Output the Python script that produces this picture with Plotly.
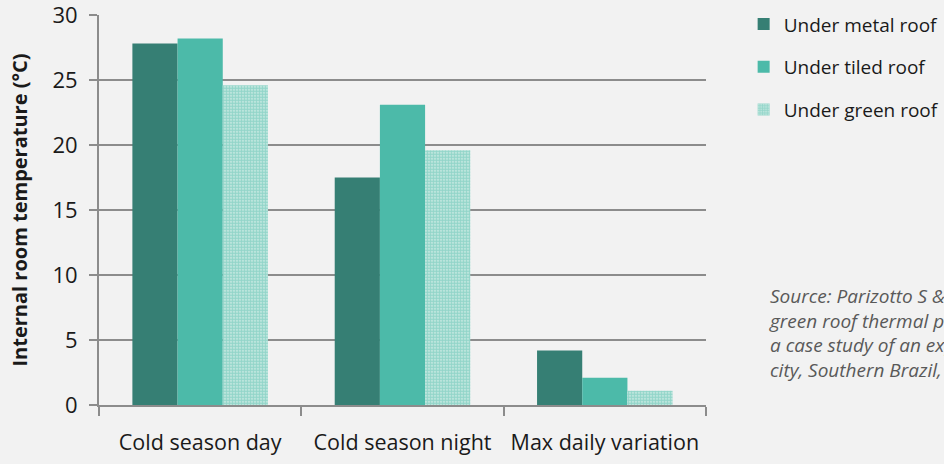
import plotly.graph_objects as go

categories = ["Cold season day", "Cold season night", "Max daily variation"]
metal_roof = [27.8, 17.5, 4.2]
tiled_roof = [28.2, 23.1, 2.1]
green_roof = [24.6, 19.6, 1.1]
series_names = ["Under metal roof", "Under tiled roof", "Under green roof"]
y_ticks = [0, 5, 10, 15, 20, 25, 30]
source_lines = [
    "Source: Parizotto S & Lamberts R (2011) Investigation of",
    "green roof thermal performance in temperate climate:",
    "a case study of an experimental building in Florianópolis",
    "city, Southern Brazil, Energy and Buildings",
]

FONT = "'Open Sans', Lato, sans-serif"
GRID = "#8c8c8c"

fig = go.Figure()
fig.add_trace(go.Bar(x=categories, y=metal_roof, name=series_names[0],
                     marker=dict(color="#367f74", line=dict(width=0)),
                     legendgroup="a"))
fig.add_trace(go.Bar(x=categories, y=tiled_roof, name=series_names[1],
                     marker=dict(color="#4cbaa9", line=dict(width=0)),
                     legendgroup="b"))
fig.add_trace(go.Bar(x=categories, y=green_roof, name=series_names[2],
                     marker=dict(color="#d6efe9", line=dict(width=0),
                                 pattern=dict(shape=".", fgcolor="#4fbba9",
                                              size=3, solidity=0.75)),
                     legendgroup="c"))

fig.update_layout(
    width=944, height=464,
    margin=dict(l=99, r=238, t=15, b=59, autoexpand=False),
    paper_bgcolor="#f2f2f2", plot_bgcolor="#f2f2f2",
    barmode="group", bargap=0.33, bargroupgap=0,
    font=dict(family=FONT, size=22, color="#1a1a1a"),
    showlegend=True,
    legend=dict(x=1.062, y=1.025, xanchor="left", yanchor="top",
                font=dict(size=19, color="#1a1a1a"),
                tracegroupgap=15, bgcolor="rgba(0,0,0,0)"),
    xaxis=dict(showline=True, linecolor=GRID, linewidth=2,
               ticks="outside", ticklen=9, tickcolor=GRID, tickwidth=2,
               tickson="boundaries", showgrid=False, ticklabelstandoff=17,
               tickfont=dict(size=21.5), range=[-0.5, 2.5]),
    yaxis=dict(range=[0, 30], tickvals=y_ticks, showline=True,
               linecolor=GRID, linewidth=2, ticks="outside", ticklen=8,
               tickcolor=GRID, tickwidth=2, showgrid=True,
               gridcolor=GRID, gridwidth=2, zeroline=False,
               ticklabelstandoff=7, ticklabeloverflow="allow",
               tickfont=dict(size=22),
               title=dict(text="<b>Internal room temperature (°C)</b>",
                          font=dict(size=20), standoff=19)),
)

fig.add_annotation(
    text="<i>" + "<br>".join(source_lines) + "</i>",
    xref="paper", yref="paper", x=1.1, y=0.317,
    xanchor="left", yanchor="top", align="left", showarrow=False,
    font=dict(family=FONT, size=19, color="#595959"),
)

fig.write_html("out.html", config={"displayModeBar": False},
               post_script="document.body.style.margin='0';document.body.style.overflow='hidden';")
